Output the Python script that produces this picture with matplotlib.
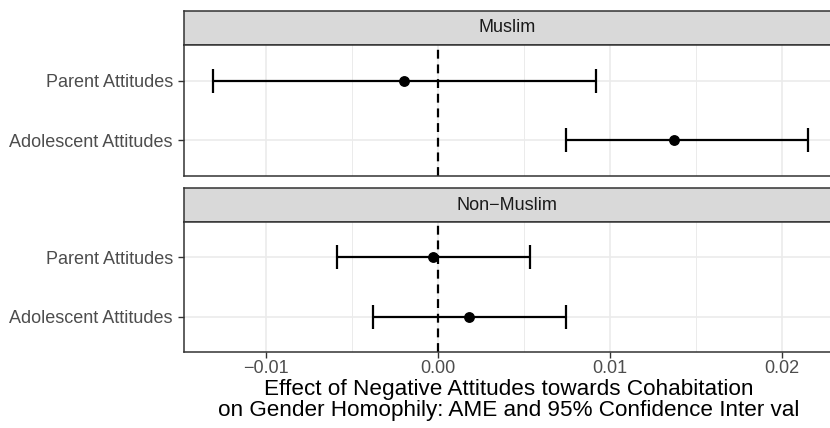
import matplotlib
matplotlib.use("Agg")
import matplotlib.pyplot as plt
from matplotlib.ticker import MultipleLocator, FixedLocator

plt.rcParams['font.family'] = ['Liberation Sans', 'DejaVu Sans']

# Estimates and 95% confidence bounds, by group
groups = ["Muslim", "Non\u2212Muslim"]
terms = ["Adolescent Attitudes", "Parent Attitudes"]
ame = {
    "Muslim": [0.01372, -0.00198],
    "Non\u2212Muslim": [0.00180, -0.00029],
}
lower = {
    "Muslim": [0.00744, -0.01308],
    "Non\u2212Muslim": [-0.00378, -0.00587],
}
upper = {
    "Muslim": [0.02151, 0.00919],
    "Non\u2212Muslim": [0.00744, 0.00535],
}
x_ticks = [-0.01, 0.00, 0.01, 0.02]
x_tick_labels = ["\u22120.01", "0.00", "0.01", "0.02"]
x_label = ("Effect of Negative Attitudes towards Cohabitation\n"
           "on Gender Homophily: AME and 95% Confidence Inter val")

W, H = 830, 428
fig = plt.figure(figsize=(W / 100, H / 100), dpi=100)

border = "#333333"
left_px, right_px = 184, 833
x_left, x_right = -0.01477, 0.02297

# (strip top, strip bottom, panel bottom) in pixels
layout = [(11, 45, 176), (188, 222, 352)]


def frac_box(x0, x1, y0, y1):
    return [x0 / W, 1 - y1 / H, (x1 - x0) / W, (y1 - y0) / H]


for gi, g in enumerate(groups):
    s_top, s_bot, p_bot = layout[gi]

    # facet strip
    sax = fig.add_axes(frac_box(left_px, right_px, s_top, s_bot))
    sax.set_facecolor("#D9D9D9")
    sax.set_xticks([])
    sax.set_yticks([])
    for sp in sax.spines.values():
        sp.set_color(border)
        sp.set_linewidth(1.1)
    # centre the label on the visible part of the strip
    cx = ((left_px + W) / 2 - left_px) / (right_px - left_px)
    sax.text(cx, 0.5, g, transform=sax.transAxes, ha="center", va="center",
             fontsize=13, color="#1A1A1A")

    # panel
    ax = fig.add_axes(frac_box(left_px, right_px, s_bot, p_bot))
    ax.set_facecolor("white")
    ax.set_xlim(x_left, x_right)
    ax.set_ylim(0.4, 2.6)

    ax.xaxis.set_major_locator(FixedLocator(x_ticks))
    ax.xaxis.set_minor_locator(MultipleLocator(0.005))
    ax.set_yticks([1, 2])
    ax.set_yticklabels(terms)
    ax.grid(which="major", color="#EBEBEB", linewidth=1.2)
    ax.grid(which="minor", axis="x", color="#EBEBEB", linewidth=0.7)
    ax.set_axisbelow(True)

    ax.tick_params(axis="y", length=4, width=1.0, color=border,
                   labelsize=13, labelcolor="#4D4D4D", pad=4)
    ax.tick_params(axis="x", which="minor", length=0)
    if gi == len(groups) - 1:
        ax.set_xticklabels(x_tick_labels)
        ax.tick_params(axis="x", which="major", length=4, width=1.0,
                       color=border, labelsize=13, labelcolor="#4D4D4D", pad=1.5)
        ax.set_xlabel(x_label, fontsize=16.2, color="black", labelpad=2,
                      linespacing=1.0)
    else:
        ax.tick_params(axis="x", which="major", length=0, labelbottom=False)

    for sp in ax.spines.values():
        sp.set_color(border)
        sp.set_linewidth(1.1)

    ax.axvline(0, color="black", linestyle=(0, (4, 2.6)), linewidth=1.6,
               zorder=2)

    yv = [1, 2]
    xv = ame[g]
    xerr = [[xv[i] - lower[g][i] for i in range(2)],
            [upper[g][i] - xv[i] for i in range(2)]]
    ax.errorbar(xv, yv, xerr=xerr, fmt="o", color="black", ecolor="black",
                elinewidth=1.6, capsize=8.6, capthick=1.6, markersize=6.8,
                zorder=3)

fig.savefig("out.png", dpi=100)
